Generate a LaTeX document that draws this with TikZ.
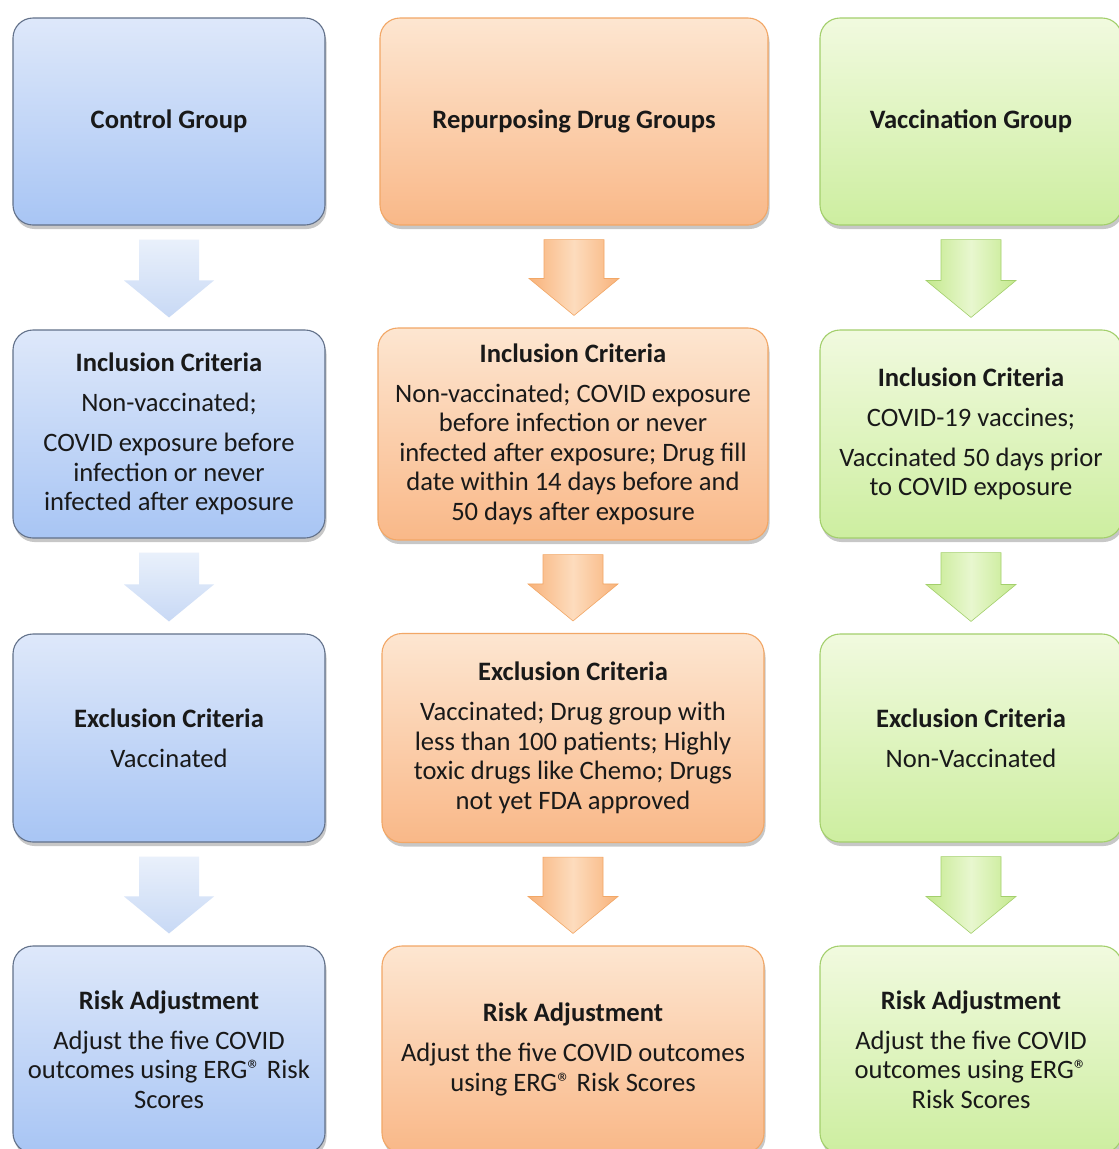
\documentclass[tikz,border=0pt]{standalone}
\usepackage{fontspec}
\setmainfont{Carlito}
\usetikzlibrary{calc,shadows}
\definecolor{bluetop}{HTML}{DEE8FA}
\definecolor{bluebot}{HTML}{A8C5F4}
\definecolor{bluebd}{HTML}{62718A}
\definecolor{ortop}{HTML}{FDE6D1}
\definecolor{orbot}{HTML}{F9B888}
\definecolor{orbd}{HTML}{F2A766}
\definecolor{grtop}{HTML}{F1FADF}
\definecolor{grbot}{HTML}{CDEEA0}
\definecolor{grbd}{HTML}{A3CF6C}
\definecolor{barrtop}{HTML}{E9F0FB}
\definecolor{barrbot}{HTML}{C8D9F5}
\definecolor{oarredge}{HTML}{F8B27A}
\definecolor{oarrmid}{HTML}{FDDCBD}
\definecolor{garredge}{HTML}{C4E98D}
\definecolor{garrmid}{HTML}{E8F7CF}
\newcommand\blockarrow[3]{%
  \path[#3] let \p1=($(#1.south)+(0,14)$), \p2=($(#2.north)+(0,-12)$) in
    (\x1-30pt,\y1) -- (\x1+30pt,\y1) -- (\x1+30pt,\y2+37pt) -- (\x1+45pt,\y2+37pt)
    -- (\x1,\y2) -- (\x1-45pt,\y2+37pt) -- (\x1-30pt,\y2+37pt) -- cycle;
}
\newcommand\regmark{®}
\tikzset{
  gbox/.style={rounded corners=20pt, line width=1.1pt, align=center,
    font=\fontsize{26.6}{29.5}\selectfont, text=black!90,
    drop shadow={shadow xshift=1.5pt, shadow yshift=-4pt, fill=black, opacity=0.22}},
  bluebox/.style={gbox, draw=bluebd, top color=bluetop, bottom color=bluebot},
  orbox/.style={gbox, draw=orbd, top color=ortop, bottom color=orbot},
  grbox/.style={gbox, draw=grbd, top color=grtop, bottom color=grbot},
  barr/.style={top color=barrtop, bottom color=barrbot},
  oarr/.style={shading=axis, left color=oarredge, right color=oarredge, middle color=oarrmid, draw=orbd, line width=0.6pt},
  garr/.style={shading=axis, left color=garredge, right color=garredge, middle color=garrmid, draw=grbd, line width=0.6pt},
}
\begin{document}
\begin{tikzpicture}[x=1pt,y=-1pt]
\useasboundingbox (0,0) rectangle (1119,1149);
\fill[white] (0,0) rectangle (1119,1149);
\clip (0,0) rectangle (1119,1149);
% column 1
\node[bluebox, minimum width=312pt, minimum height=207pt] (c1) at (169,121.5) {\textbf{Control Group}};
\node[bluebox, minimum width=312pt, minimum height=208pt] (i1) at (169,434) {\textbf{Inclusion Criteria}\\[10.5pt]Non-vaccinated;\\[10.5pt]COVID exposure before\\infection or never\\infected after exposure};
\node[bluebox, minimum width=312pt, minimum height=208pt] (e1) at (169,738) {\textbf{Exclusion Criteria}\\[10.5pt]Vaccinated};
\node[bluebox, minimum width=312pt, minimum height=207pt] (r1) at (169,1049.5) {\textbf{Risk Adjustment}\\[10.5pt]Adjust the five COVID\\outcomes using ERG\regmark{} Risk\\Scores};
% column 2
\node[orbox, minimum width=388pt, minimum height=207pt] (c2) at (574,121.5) {\textbf{Repurposing Drug Groups}};
\node[orbox, minimum width=390pt, minimum height=212pt] (i2) at (573,434) {\textbf{Inclusion Criteria}\\[10.5pt]Non-vaccinated; COVID exposure\\before infection or never\\infected after exposure; Drug fill\\date within 14 days before and\\50 days after exposure};
\node[orbox, minimum width=382pt, minimum height=209pt] (e2) at (573,738) {\textbf{Exclusion Criteria}\\[10.5pt]Vaccinated; Drug group with\\less than 100 patients; Highly\\toxic drugs like Chemo; Drugs\\not yet FDA approved};
\node[orbox, minimum width=382pt, minimum height=207pt] (r2) at (573,1049.5) {\textbf{Risk Adjustment}\\[10.5pt]Adjust the five COVID outcomes\\using ERG\regmark{} Risk Scores};
% column 3
\node[grbox, minimum width=302pt, minimum height=207pt] (c3) at (971,121.5) {\textbf{Vaccination Group}};
\node[grbox, minimum width=302pt, minimum height=208pt] (i3) at (971,434) {\textbf{Inclusion Criteria}\\[10.5pt]COVID-19 vaccines;\\[10.5pt]Vaccinated 50 days prior\\to COVID exposure};
\node[grbox, minimum width=302pt, minimum height=208pt] (e3) at (971,738) {\textbf{Exclusion Criteria}\\[10.5pt]Non-Vaccinated};
\node[grbox, minimum width=302pt, minimum height=207pt] (r3) at (971,1049.5) {\textbf{Risk Adjustment}\\[10.5pt]Adjust the five COVID\\outcomes using ERG\regmark\\Risk Scores};
% arrows
\blockarrow{c1}{i1}{barr}
\blockarrow{i1}{e1}{barr}
\blockarrow{e1}{r1}{barr}
\blockarrow{c2}{i2}{oarr}
\blockarrow{i2}{e2}{oarr}
\blockarrow{e2}{r2}{oarr}
\blockarrow{c3}{i3}{garr}
\blockarrow{i3}{e3}{garr}
\blockarrow{e3}{r3}{garr}
\end{tikzpicture}
\end{document}
